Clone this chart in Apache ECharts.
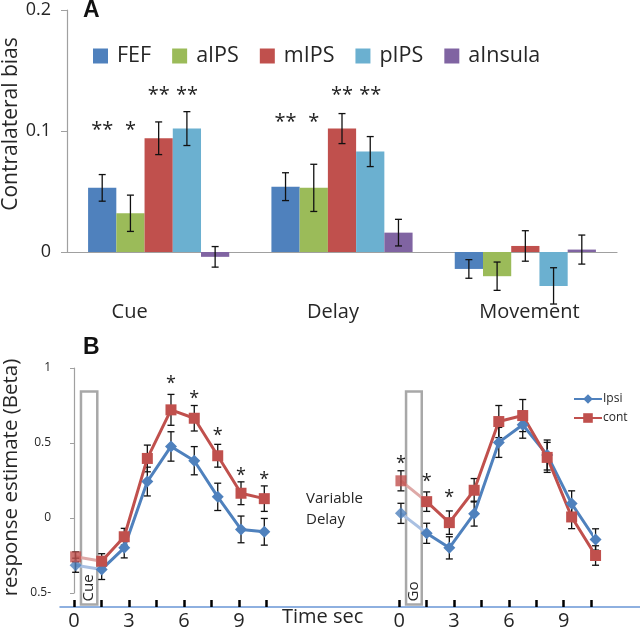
<!DOCTYPE html>
<html><head><meta charset="utf-8">
<script src="https://cdn.jsdelivr.net/npm/echarts@6/dist/echarts.min.js"></script>
<style>html,body{margin:0;padding:0;background:#fff}#c{width:640px;height:629px}</style>
</head><body><div id="c"></div>
<script>
// ---------- Panel A data ----------
const regions = ['FEF', 'aIPS', 'mIPS', 'pIPS', 'aInsula'];
const phases = ['Cue', 'Delay', 'Movement'];
const yTicksA = [0, 0.1, 0.2];
const biasFEF = [0.053, 0.054, -0.014];
const biasAIPS = [0.032, 0.053, -0.020];
const biasMIPS = [0.094, 0.102, 0.005];
const biasPIPS = [0.102, 0.083, -0.028];
const biasAInsula = [-0.004, 0.016, 0.002];
const errFEF = [0.011, 0.0115, 0.0077];
const errAIPS = [0.015, 0.0195, 0.0117];
const errMIPS = [0.0135, 0.0124, 0.0126];
const errPIPS = [0.014, 0.0124, 0.015];
const errAInsula = [0.0085, 0.011, 0.012];
const starFEF = ['**', '**', ''];
const starAIPS = ['*', '*', ''];
const starMIPS = ['**', '**', ''];
const starPIPS = ['**', '**', ''];
const starAInsula = ['', '', ''];
const starLevelFEF = [0.103, 0.110, 0];
const starLevelAIPS = [0.103, 0.110, 0];
const starLevelMIPS = [0.132, 0.132, 0];
const starLevelPIPS = [0.132, 0.132, 0];
const starLevelAInsula = [0, 0, 0];

// ---------- Panel B data ----------
const conditions = ['Ipsi', 'cont'];
const yTicksB = [-0.5, 0, 0.5, 1];
const timeTicks = [0, 3, 6, 9];
const timesL = [0.09, 1.51, 2.74, 4.00, 5.29, 6.56, 7.84, 9.11, 10.38];
const timesR = [0.09, 1.50, 2.74, 4.10, 5.45, 6.76, 8.10, 9.44, 10.75];
const ipsiL = [-0.315, -0.343, -0.199, 0.243, 0.477, 0.382, 0.141, -0.076, -0.092];
const ipsiErrL = [0.047, 0.067, 0.067, 0.096, 0.098, 0.094, 0.091, 0.089, 0.089];
const contL = [-0.259, -0.288, -0.125, 0.397, 0.721, 0.665, 0.415, 0.165, 0.129];
const contErrL = [0.033, 0.050, 0.056, 0.089, 0.103, 0.085, 0.076, 0.076, 0.085];
const ipsiR = [0.031, -0.102, -0.199, 0.029, 0.504, 0.622, 0.420, 0.096, -0.143];
const ipsiErrR = [0.067, 0.067, 0.074, 0.083, 0.100, 0.090, 0.100, 0.085, 0.071];
const contR = [0.248, 0.109, -0.031, 0.185, 0.643, 0.683, 0.404, 0.007, -0.250];
const contErrR = [0.067, 0.065, 0.078, 0.078, 0.107, 0.107, 0.100, 0.078, 0.065];
const starIdxL = [4, 5, 6, 7, 8];
const starLevelL = [0.917, 0.815, 0.567, 0.303, 0.274];
const starIdxR = [0, 1, 2];
const starLevelR = [0.382, 0.259, 0.152];
const cueBox = [0.38, 1.27, 0.843, -0.576];
const goBox = [0.37, 1.23, 0.843, -0.576];
const boxLabels = ['Cue', 'Go'];

// ---------- styles ----------
const FONT = 'Open Sans';
const TXT = '#262626';
const colorsA = ['#4f81bd', '#9bbb59', '#c0504d', '#6bb0d0', '#8064a2'];
const BLUE = '#4f81bd', RED = '#c0504d', BLUE_F = '#a9c0e2', RED_F = '#dea9a7';
const GAP = 0.23;

const valsA = [biasFEF, biasAIPS, biasMIPS, biasPIPS, biasAInsula];
const errsA = [errFEF, errAIPS, errMIPS, errPIPS, errAInsula];
const starsA = [starFEF, starAIPS, starMIPS, starPIPS, starAInsula];
const starLvA = [starLevelFEF, starLevelAIPS, starLevelMIPS, starLevelPIPS, starLevelAInsula];

const chart = echarts.init(document.getElementById('c'));
const series = [];

regions.forEach((name, r) => {
  series.push({
    name, type: 'bar', xAxisIndex: 0, yAxisIndex: 0, clip: false,
    barGap: '0%', barCategoryGap: (GAP * 100) + '%',
    itemStyle: { color: colorsA[r] }, data: valsA[r], silent: true
  });
});
regions.forEach((name, r) => {
  series.push({
    name: name + '_err', type: 'custom', xAxisIndex: 0, yAxisIndex: 0, z: 5,
    data: phases.map((p, i) => [i, valsA[r][i], errsA[r][i]]),
    renderItem: (params, api) => {
      const i = api.value(0), v = api.value(1), e = api.value(2);
      const band = api.size([1, 0])[0];
      const bw = band * (1 - GAP) / 5;
      const cx = api.coord([i, 0])[0] + (r - 2) * bw;
      const yt = api.coord([i, v + e])[1], yb = api.coord([i, v - e])[1];
      const st = { stroke: '#111', lineWidth: 1.3 };
      const ch = [
        { type: 'line', shape: { x1: cx, y1: yt, x2: cx, y2: yb }, style: st },
        { type: 'line', shape: { x1: cx - 3.5, y1: yt, x2: cx + 3.5, y2: yt }, style: st },
        { type: 'line', shape: { x1: cx - 3.5, y1: yb, x2: cx + 3.5, y2: yb }, style: st }
      ];
      const s = starsA[r][params.dataIndex];
      if (s) {
        const ys = api.coord([i, starLvA[r][params.dataIndex]])[1];
        ch.push({ type: 'text', x: cx, y: ys + 3, style: { text: s, fontSize: 20, fontFamily: FONT, fill: '#222', align: 'center', verticalAlign: 'middle' } });
      }
      return { type: 'group', children: ch };
    }
  });
});

// Panel B
function addPanel(gi, times, ipsi, ipsiErr, cont, contErr, starIdx, starLv, box, boxLabel) {
  const ax = { xAxisIndex: gi, yAxisIndex: gi };
  series.push(Object.assign({
    name: 'box' + gi, type: 'custom', z: 1, data: [box],
    renderItem: (params, api) => {
      const p0 = api.coord([api.value(0), api.value(2)]);
      const p1 = api.coord([api.value(1), api.value(3)]);
      return { type: 'group', children: [
        { type: 'rect', shape: { x: p0[0], y: p0[1], width: p1[0] - p0[0], height: p1[1] - p0[1] },
          style: { fill: 'rgba(255,255,255,0)', stroke: '#a8a8a8', lineWidth: 2.5 } },
        { type: 'text', x: (p0[0] + p1[0]) / 2, y: p1[1] - 3, rotation: Math.PI / 2,
          style: { text: boxLabel, fontSize: 15, fontFamily: FONT, fill: TXT, align: 'left', verticalAlign: 'middle' } }
      ] };
    }
  }, ax));
  const conds = [
    { name: 'Ipsi', vals: ipsi, errs: ipsiErr, color: BLUE, fade: BLUE_F, symbol: 'diamond', size: 12 },
    { name: 'cont', vals: cont, errs: contErr, color: RED, fade: RED_F, symbol: 'rect', size: 11 }
  ];
  conds.forEach(c => {
    series.push(Object.assign({
      name: c.name + '_fade' + gi, type: 'line', z: 2, clip: false, symbol: 'none',
      lineStyle: { color: c.fade, width: 3 },
      data: [[times[0], c.vals[0]], [times[1], c.vals[1]]]
    }, ax));
    series.push(Object.assign({
      name: c.name + '_err' + gi, type: 'custom', z: 3,
      data: times.map((t, i) => [t, c.vals[i], c.errs[i]]),
      renderItem: (params, api) => {
        const t = api.value(0), v = api.value(1), e = api.value(2);
        const top = api.coord([t, v + e]), bot = api.coord([t, v - e]);
        const st = { stroke: '#111', lineWidth: 1.3 };
        return { type: 'group', children: [
          { type: 'line', shape: { x1: top[0], y1: top[1], x2: bot[0], y2: bot[1] }, style: st },
          { type: 'line', shape: { x1: top[0] - 3.5, y1: top[1], x2: top[0] + 3.5, y2: top[1] }, style: st },
          { type: 'line', shape: { x1: bot[0] - 3.5, y1: bot[1], x2: bot[0] + 3.5, y2: bot[1] }, style: st }
        ] };
      }
    }, ax));
    series.push(Object.assign({
      name: c.name, type: 'line', z: 4, clip: false,
      symbol: c.symbol, symbolSize: c.size, showAllSymbol: true,
      lineStyle: { color: c.color, width: 3 }, itemStyle: { color: c.color },
      data: times.slice(1).map((t, i) => [t, c.vals[i + 1]])
    }, ax));
    series.push(Object.assign({
      name: c.name + '_start' + gi, type: 'scatter', z: 4,
      symbol: c.symbol, symbolSize: c.size, itemStyle: { color: c.color },
      data: [[times[0], c.vals[0]]]
    }, ax));
  });
  series.push(Object.assign({
    name: 'stars' + gi, type: 'custom', z: 5,
    data: starIdx.map((k, j) => [times[k], starLv[j]]),
    renderItem: (params, api) => {
      const p = api.coord([api.value(0), api.value(1)]);
      return { type: 'text', x: p[0], y: p[1] + 3, style: { text: '*', fontSize: 18, fontFamily: FONT, fill: '#222', align: 'center', verticalAlign: 'middle' } };
    }
  }, ax));
}
addPanel(1, timesL, ipsiL, ipsiErrL, contL, contErrL, starIdxL, starLevelL, cueBox, boxLabels[0]);
addPanel(2, timesR, ipsiR, ipsiErrR, contR, contErrR, starIdxR, starLevelR, goBox, boxLabels[1]);

const timeAxis = (gi) => ({
  type: 'value', gridIndex: gi, min: 0, max: 10.5, interval: 1.5, offset: 14,
  axisLine: { show: false, onZero: false },
  axisTick: { show: true, inside: true, length: 7, lineStyle: { color: '#000', width: 2.5 } },
  axisLabel: { margin: 4, fontSize: 20, fontFamily: FONT, color: TXT,
    formatter: v => (Math.abs(v / 3 - Math.round(v / 3)) < 1e-6 && timeTicks.indexOf(Math.round(v)) >= 0) ? String(Math.round(v)) : '' },
  splitLine: { show: false }
});

const gridBase = { containLabel: false, outerBoundsMode: 'none' };
const option = {
  animation: false,
  backgroundColor: '#fff',
  textStyle: { fontFamily: FONT },
  title: [
    { text: 'A', left: 83, top: -1, padding: 0, textStyle: { fontFamily: 'Liberation Sans', fontWeight: 'bold', fontSize: 23, color: '#111' } },
    { text: 'B', left: 83, top: 336, padding: 0, textStyle: { fontFamily: 'Liberation Sans', fontWeight: 'bold', fontSize: 23, color: '#111' } }
  ],
  legend: [
    { data: regions, left: 93, top: 45, padding: 0, icon: 'rect', itemWidth: 15, itemHeight: 15, itemGap: 21,
      textStyle: { fontSize: 21.5, fontFamily: FONT, color: TXT, padding: [0, 0, 0, 4] }, selectedMode: false },
    { data: conditions, left: 573, top: 393, padding: 0, orient: 'vertical', itemWidth: 28, itemHeight: 12, itemGap: 7,
      textStyle: { fontSize: 12, fontFamily: FONT, color: TXT, padding: [0, 0, 0, -4] }, selectedMode: false }
  ],
  grid: [
    Object.assign({ left: 67, top: 10, width: 550, height: 242 }, gridBase),
    Object.assign({ left: 74, top: 368, width: 192.5, height: 225 }, gridBase),
    Object.assign({ left: 399.3, top: 368, width: 191.7, height: 225 }, gridBase),
    Object.assign({ left: 60, top: 593, width: 580, height: 14 }, gridBase)
  ],
  xAxis: [
    { type: 'category', gridIndex: 0, data: phases,
      axisLine: { lineStyle: { color: '#a0a0a0', width: 1.2 } }, axisTick: { show: false },
      axisLabel: { interval: 0, margin: 50, fontSize: 20, fontFamily: FONT, color: TXT,
        formatter: (v, i) => '{c' + i + '|' + v + '}',
        rich: {
          c0: { fontSize: 20, fontFamily: FONT, color: TXT, padding: [0, 58, 0, 0] },
          c1: { fontSize: 20, fontFamily: FONT, color: TXT, padding: [0, 18, 0, 0] },
          c2: { fontSize: 20, fontFamily: FONT, color: TXT, padding: [0, 0, 0, 8] }
        } } },
    timeAxis(1),
    timeAxis(2),
    { type: 'value', gridIndex: 3, min: 0, max: 1, axisLine: { lineStyle: { color: '#6a96d6', width: 1.5 } },
      axisTick: { show: false }, axisLabel: { show: false }, splitLine: { show: false } }
  ],
  yAxis: [
    { type: 'value', gridIndex: 0, min: yTicksA[0], max: yTicksA[2], interval: 0.1,
      name: 'Contralateral bias', nameLocation: 'middle', nameGap: 45, nameMoveOverlap: false,
      nameTextStyle: { fontSize: 21, fontFamily: FONT, color: TXT, padding: [0, 0, 0, 14] },
      axisLine: { show: true, lineStyle: { color: '#a0a0a0', width: 1.2 } },
      axisTick: { show: true, length: 6, lineStyle: { color: '#a0a0a0' } },
      axisLabel: { margin: 16, fontSize: 18, fontFamily: FONT, color: TXT },
      splitLine: { show: false } },
    { type: 'value', gridIndex: 1, min: yTicksB[0], max: yTicksB[3], interval: 0.5, offset: 7,
      name: 'response estimate (Beta)', nameLocation: 'middle', nameGap: 45, nameMoveOverlap: false,
      nameTextStyle: { fontSize: 20.5, fontFamily: FONT, color: TXT, padding: [0, 0, 0, 6] },
      axisLine: { show: true, lineStyle: { color: '#a0a0a0', width: 1.2 } },
      axisTick: { show: true, length: 4, lineStyle: { color: '#a0a0a0' } },
      axisLabel: { margin: 16, fontSize: 12, fontFamily: FONT, color: TXT,
        formatter: v => v < 0 ? (String(-v) + '-') : String(v) },
      splitLine: { show: false } },
    { type: 'value', gridIndex: 2, min: yTicksB[0], max: yTicksB[3], show: false },
    { type: 'value', gridIndex: 3, show: false }
  ],
  graphic: [
    { type: 'text', left: 306, top: 488, style: { text: 'Variable\nDelay', fontSize: 15, fontFamily: FONT, fill: TXT, align: 'center', lineHeight: 21, x: 30 } },
    { type: 'text', left: 282, top: 607, style: { text: 'Time sec', fontSize: 20, fontFamily: FONT, fill: TXT } }
  ],
  series
};
chart.setOption(option);
</script>
</body></html>
